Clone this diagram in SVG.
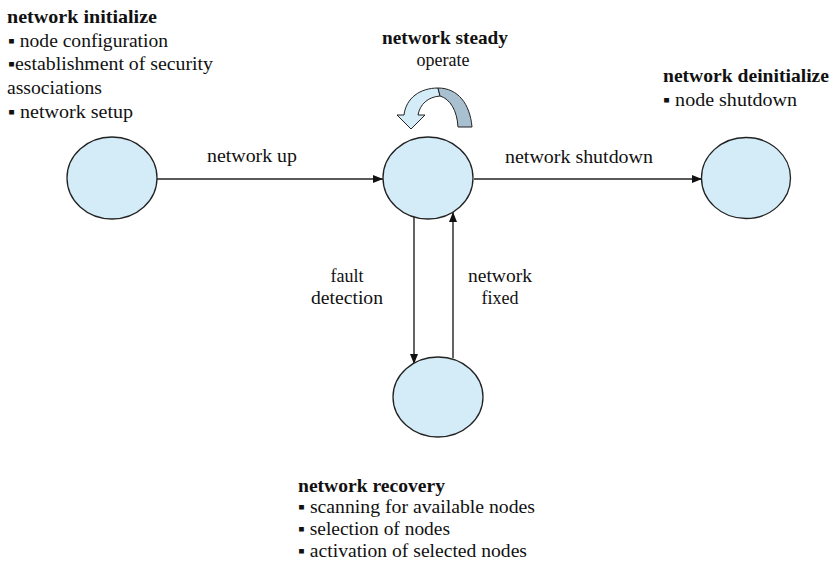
<svg xmlns="http://www.w3.org/2000/svg" width="833" height="566" viewBox="0 0 833 566" font-family="'Liberation Serif', 'DejaVu Serif', 'Noto Serif', serif">
<defs>
<style>
.t{font-size:18px;fill:#111}
.b{font-size:19px;font-weight:bold;fill:#111}
.node{fill:#d3ecf8;stroke:#222;stroke-width:1.3}
.edge{stroke:#222;stroke-width:1.4;fill:none;marker-end:url(#ah)}
</style>
<marker id="ah" viewBox="0 0 10 10" refX="10" refY="5" markerWidth="10" markerHeight="10" markerUnits="userSpaceOnUse" orient="auto">
<path d="M0,1 L10,5 L0,9 Z" fill="#111"/>
</marker>
</defs>
<rect width="833" height="566" fill="#fff"/>

<g id="connectors">
<line class="edge" x1="157" y1="179" x2="383" y2="179"/>
<line class="edge" x1="474" y1="179" x2="702" y2="179"/>
<line class="edge" x1="414" y1="217" x2="414" y2="364"/>
<line class="edge" x1="453" y1="358" x2="453" y2="212"/>
<text class="t" x="207" y="162" textLength="90" lengthAdjust="spacingAndGlyphs">network up</text>
<text class="t" x="505" y="163" textLength="148" lengthAdjust="spacingAndGlyphs">network shutdown</text>
<text class="t" x="347" y="282" text-anchor="middle">fault</text>
<text class="t" x="347" y="304" text-anchor="middle" textLength="72" lengthAdjust="spacingAndGlyphs">detection</text>
<text class="t" x="500" y="282" text-anchor="middle" textLength="64" lengthAdjust="spacingAndGlyphs">network</text>
<text class="t" x="500" y="304" text-anchor="middle">fixed</text>
</g>

<g id="node-initialize">
<ellipse class="node" cx="112" cy="178" rx="45" ry="41"/>
<text class="b" x="7" y="23" textLength="150" lengthAdjust="spacingAndGlyphs">network initialize</text>
<text class="t" x="8" y="47" textLength="160" lengthAdjust="spacingAndGlyphs">▪ node configuration</text>
<text class="t" x="8" y="70" textLength="205" lengthAdjust="spacingAndGlyphs">▪establishment of security</text>
<text class="t" x="7" y="94" textLength="95" lengthAdjust="spacingAndGlyphs">associations</text>
<text class="t" x="8" y="118" textLength="125" lengthAdjust="spacingAndGlyphs">▪ network setup</text>
</g>

<g id="node-steady">
<ellipse class="node" cx="428" cy="178" rx="45" ry="41"/>
<text class="b" x="445" y="44" text-anchor="middle" textLength="126" lengthAdjust="spacingAndGlyphs">network steady</text>
<text class="t" x="443" y="66" text-anchor="middle">operate</text>
<path d="M397 115 L404 115 C406 98 420 88 438 88 L440 96 C428 97 420 104 418 115 L425 115 L411 129 Z" fill="#d3ecf8" stroke="#222" stroke-width="1"/>
<path d="M438 88 C458 88 470 104 472 127 L458 127 C457 110 450 99 440 96 Z" fill="#a8c0cf" stroke="#222" stroke-width="1"/>
</g>

<g id="node-deinitialize">
<ellipse class="node" cx="746" cy="178" rx="44.5" ry="40.5"/>
<text class="b" x="663" y="82" textLength="166" lengthAdjust="spacingAndGlyphs">network deinitialize</text>
<text class="t" x="663" y="106" textLength="134" lengthAdjust="spacingAndGlyphs">▪ node shutdown</text>
</g>

<g id="node-recovery">
<ellipse class="node" cx="438" cy="397" rx="45" ry="40"/>
<text class="b" x="298" y="492" textLength="147" lengthAdjust="spacingAndGlyphs">network recovery</text>
<text class="t" x="298" y="513" textLength="237" lengthAdjust="spacingAndGlyphs">▪ scanning for available nodes</text>
<text class="t" x="298" y="535" textLength="152" lengthAdjust="spacingAndGlyphs">▪ selection of nodes</text>
<text class="t" x="298" y="557" textLength="229" lengthAdjust="spacingAndGlyphs">▪ activation of selected nodes</text>
</g>
</svg>
